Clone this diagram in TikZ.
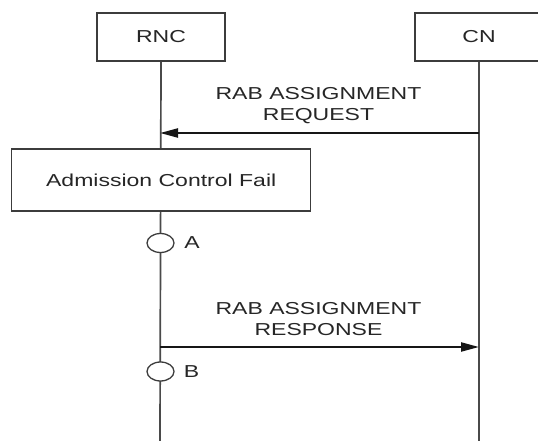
\documentclass[tikz,border=0pt]{standalone}
\usepackage{fontspec}
\setmainfont{Liberation Sans}[FakeStretch=1.33]
\usetikzlibrary{arrows.meta,shapes.geometric}
\definecolor{txt}{HTML}{262626}
\definecolor{edge}{HTML}{3C3C3C}
\definecolor{life}{HTML}{4A4A4A}
\definecolor{msg}{HTML}{161616}
\tikzset{
  entity/.style={draw=edge, line width=1.5pt, fill=white, inner sep=0pt,
    minimum width=128pt, minimum height=48pt, text=txt,
    font=\fontsize{17.3}{21}\selectfont},
  actionbox/.style={draw=edge, line width=1.5pt, fill=white, inner sep=0pt,
    minimum width=299pt, minimum height=62pt, text=txt,
    font=\fontsize{17.3}{21}\selectfont},
  lifeline/.style={draw=life, line width=1.7pt},
  message/.style={draw=msg, line width=2.2pt, -{Triangle[length=18pt,width=9pt]}},
  msglabel/.style={text=txt, align=center, inner sep=0pt, anchor=north,
    font=\fontsize{17.3}{21}\selectfont},
  state/.style={draw=edge, line width=1.3pt, fill=white, ellipse, inner sep=0pt,
    minimum width=27pt, minimum height=19pt},
  statelabel/.style={text=txt, inner sep=0pt, font=\fontsize{17.3}{21}\selectfont}
}
\begin{document}
\begin{tikzpicture}[x=1pt,y=-1pt]
\useasboundingbox (0,0) rectangle (538,441);
\clip (0,0) rectangle (538,441);
% entities
\node[entity] (rnc) at (161,37) {RNC};
\node[entity] (cn) at (479,37) {CN};
% lifeline end points
\coordinate (rncend) at (160,441);
\coordinate (cnend) at (479,441);
\draw[lifeline] (rnc.south) -- (rncend);
\draw[lifeline] (cn.south) -- (cnend);
% request
\coordinate (reqfrom) at (479,133);
\coordinate (reqto) at (160,133);
\draw[message] (reqfrom) -- (reqto);
\node[msglabel] (reqlbl) at (318.5,87.5) {RAB ASSIGNMENT\\REQUEST};
% admission control box
\node[actionbox] (acf) at (161.2,180) {Admission Control Fail};
% state A
\node[state] (sa) at (160.5,243) {};
\node[statelabel] (la) at (192,243) {A};
% response
\coordinate (resfrom) at (160,347);
\coordinate (resto) at (479,347);
\draw[message] (resfrom) -- (resto);
\node[msglabel] (reslbl) at (318.5,302.5) {RAB ASSIGNMENT\\RESPONSE};
% state B
\node[state] (sb) at (160.5,371.5) {};
\node[statelabel] (lb) at (191.5,371.5) {B};
\end{tikzpicture}
\end{document}
